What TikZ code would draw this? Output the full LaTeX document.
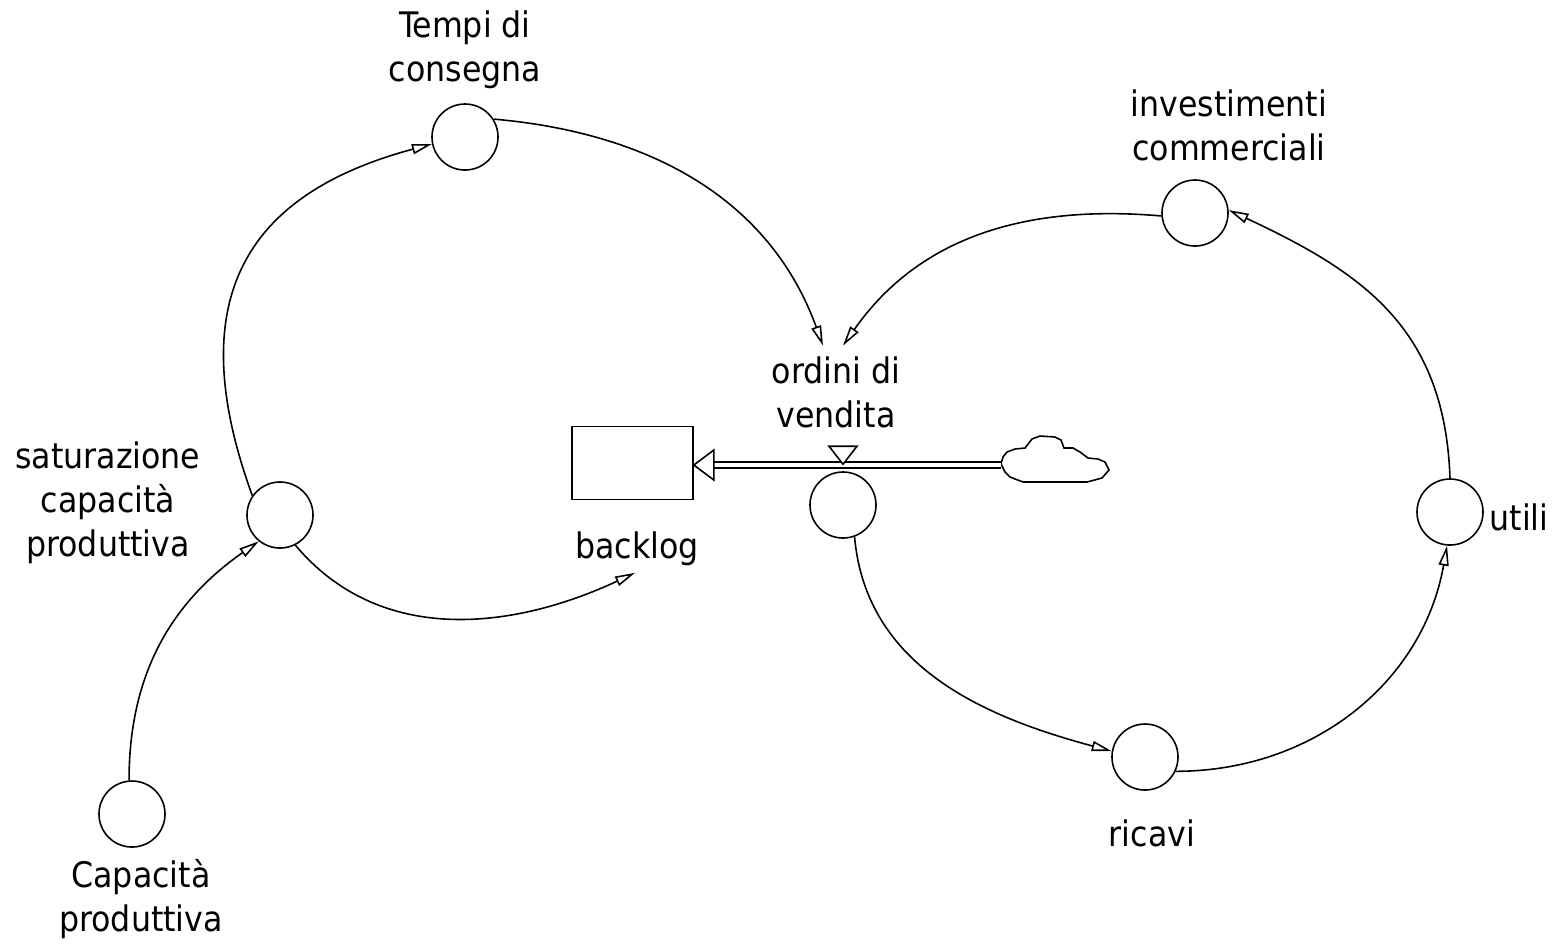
\documentclass[tikz,border=0pt]{standalone}
\usepackage{fontspec}
\setmainfont{DejaVu Sans Condensed}
\usetikzlibrary{arrows.meta,positioning,calc}

\begin{document}
\begin{tikzpicture}[
    x=0.01cm, y=0.01cm, line width=0.45pt,
    aux/.style={circle, draw=black, minimum size=0.66cm, inner sep=0pt},
    stock/.style={rectangle, draw=black, minimum width=1.21cm, minimum height=0.73cm, inner sep=0pt},
    lbl/.style={align=center, inner sep=0pt, font=\fontsize{10}{12.5}\selectfont},
    link/.style={-{Triangle[open, length=2mm, width=1mm]}}
]
\useasboundingbox (0,0) rectangle (1557,-947);

% variables
\node[aux] (tempi) at (465,-137) {};
\node[lbl] (tempilab) at (465,-50) {Tempi di\\consegna};

\node[aux] (inv) at (1195,-213) {};
\node[lbl] (invlab) at (1229,-125) {investimenti\\commerciali};

\node[aux] (sat) at (280,-515) {};
\node[lbl] (satlab) at (108,-503) {saturazione\\capacità\\produttiva};

\node[aux] (cap) at (132,-814) {};
\node[lbl] (caplab) at (141,-899) {Capacità\\produttiva};

\node[aux] (utili) at (1450,-512) {};
\node[lbl] (utililab) at (1519,-517) {utili};

\node[aux] (ricavi) at (1145,-757) {};
\node[lbl] (ricavilab) at (1152,-833) {ricavi};

% stock and flow
\node[stock] (backlog) at (632.5,-463) {};
\node[lbl] (backloglab) at (637,-549) {backlog};

\node[aux] (ordini) at (843,-505) {};
\node[lbl] (ordinilab) at (836,-392) {ordini di\\vendita};

\coordinate (cloudtip) at (1001,-465);
\draw (1001,-464) -- (1005,-472) -- (1010,-477) -- (1023,-482) -- (1087,-482)
  -- (1102,-478) -- (1109,-470) -- (1105,-462) -- (1098,-459) -- (1088,-458)
  -- (1080,-452) -- (1073,-448) -- (1064,-448) -- (1061,-440) -- (1055,-437)
  -- (1040,-436) -- (1032,-439) -- (1025,-448) -- (1015,-449) -- (1007,-452)
  -- (1003,-457) -- cycle;

\draw[double, double distance=0.4mm] (cloudtip) -- ([shift={(20,-2)}]backlog.east);
\draw[fill=white] ([yshift=-0.02cm]backlog.east) -- ++(20,15) -- ++(0,-30) -- cycle;
% valve
\draw[fill=white] ([shift={(-14,25)}]ordini.north) -- ++(28,0) -- ++(-14,-18) -- cycle;

% causal links
\draw[link] (sat.145) to[out=110,in=195,looseness=1.3] (tempi.192);
\draw[link] (tempi.32) to[out=-5,in=110] ([shift={(-13,10)}]ordinilab.north);
\draw[link] (inv.185) to[out=175,in=55] ([shift={(7,10)}]ordinilab.north);
\draw[link] (utili.90) to[out=92,in=-25,looseness=1.1] (inv.5);
\draw[link] (ricavi.-25) to[out=0,in=-100] (utili.-95);
\draw[link] (ordini.-70) to[out=-85,in=165] (ricavi.170);
\draw[link] (sat.-63) to[out=-50,in=205] ([shift={(-2,-6)}]backloglab.south);
\draw[link] (cap.95) to[out=90,in=215] (sat.-129);

\end{tikzpicture}
\end{document}
